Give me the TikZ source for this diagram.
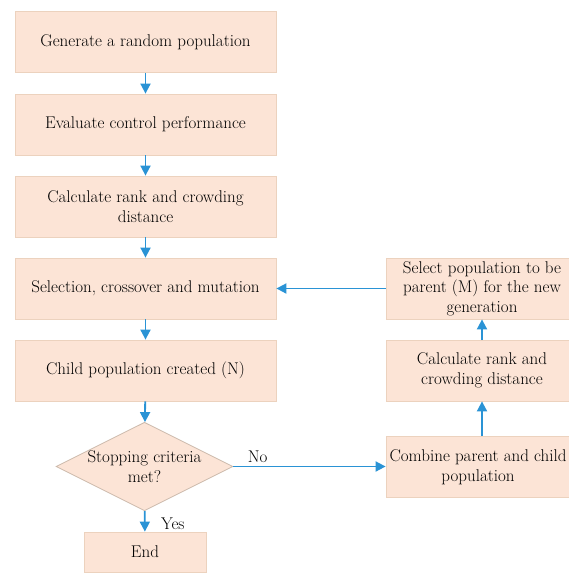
\documentclass[tikz,border=0pt]{standalone}
\usetikzlibrary{shapes.geometric,arrows.meta}

\definecolor{boxfill}{RGB}{252,228,214}
\definecolor{boxline}{RGB}{236,210,190}
\definecolor{flowblue}{RGB}{42,147,213}

\tikzset{every picture/.style={line width=0.75pt}}

\begin{document}
\begin{tikzpicture}[x=1pt,y=1pt,yscale=-1,xscale=1,
  stepbox/.style={draw=boxline,fill=boxfill,line width=0.8pt,minimum width=261,minimum height=61,align=center,inner sep=0pt,font=\fontsize{17}{19.5}\selectfont},
  sidebox/.style={stepbox,minimum width=192},
  decide/.style={diamond,aspect=2,draw=boxline!70!gray,fill=boxfill,line width=0.8pt,minimum width=175,minimum height=87,inner sep=0pt,align=center,font=\fontsize{17}{19.5}\selectfont},
  flow/.style={draw=flowblue,line width=1.8pt,-{Triangle[length=10pt,width=10pt]}},
  lbl/.style={font=\fontsize{17}{19.5}\selectfont}]
\useasboundingbox (0,0) rectangle (568,573);

% Left column
\node [stepbox] (gen) at (145.5,42) {Generate a random population};
\node [stepbox] (eval) at (145.5,124.5) {Evaluate control performance};
\node [stepbox] (rank) at (145.5,206.5) {Calculate rank and crowding\\distance};
\node [stepbox] (sel) at (145.5,288.5) {Selection, crossover and mutation};
\node [stepbox] (child) at (145.5,370.5) {Child population created (N)};
% Decision
\node [decide] (stop) at (144.5,466.5) {Stopping criteria\\met?};
\node [stepbox,minimum width=122,minimum height=40] (done) at (145,552) {End};

% Right column
\node [sidebox] (parent) at (482,288.5) {Select population to be\\parent (M) for the new\\generation};
\node [sidebox] (crank) at (482,370.5) {Calculate rank and\\crowding distance};
\node [sidebox,minimum width=184] (comb) at (478,467) {Combine parent and child\\population};

% Connectors
\draw [flow] (gen) -- (eval);
\draw [flow] (eval) -- (rank);
\draw [flow] (rank) -- (sel);
\draw [flow] (sel) -- (child);
\draw [flow] (child) -- (stop);
\draw [flow] (stop) -- (done) node [lbl,pos=0.6,right=12pt] {Yes};
\draw [flow] (stop.east) -- (comb.west |- stop.east) node [lbl,pos=0.16,above=0pt] {No};
\draw [flow] (comb.north -| crank) -- (crank);
\draw [flow] (crank) -- (parent);
\draw [flow] (parent) -- (sel);

\end{tikzpicture}
\end{document}
